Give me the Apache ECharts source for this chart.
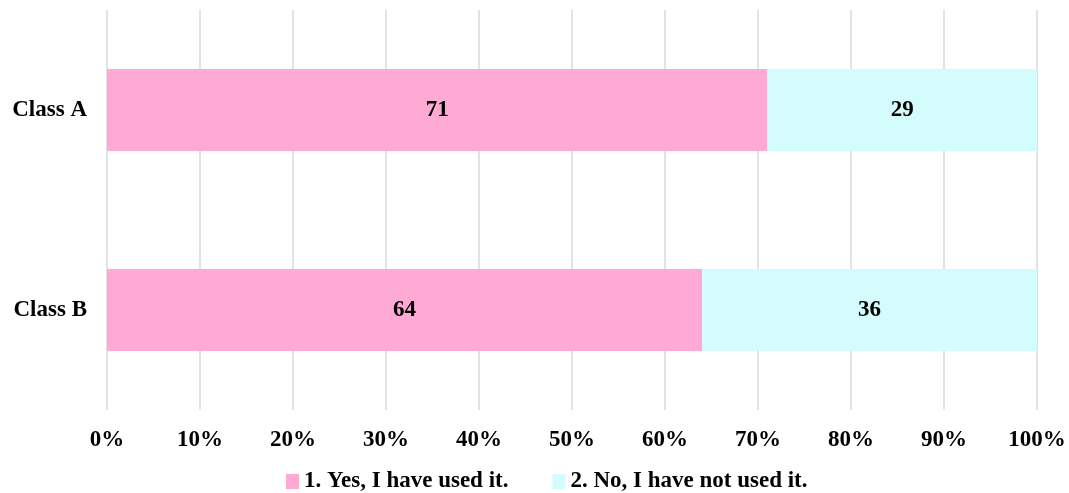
<!DOCTYPE html>
<html>
<head>
<meta charset="utf-8">
<script src="https://cdn.jsdelivr.net/npm/echarts@6/dist/echarts.min.js"></script>
<style>
html,body{margin:0;padding:0;background:#fff;}
#chart{width:1069px;height:493px;}
</style>
</head>
<body>
<div id="chart"></div>
<script>
// Survey answers per class (percent of students)
const categories = ['Class A', 'Class B'];
const usedIt = [71, 64];
const notUsed = [29, 36];
const seriesNames = ['1. Yes, I have used it.', '2. No, I have not used it.'];
const tickLabels = ['0%', '10%', '20%', '30%', '40%', '50%', '60%', '70%', '80%', '90%', '100%'];

const font = 'Liberation Serif';
const fontSize = 23;
const chart = echarts.init(document.getElementById('chart'));

const labelStyle = {
  show: true,
  position: 'inside',
  color: '#000',
  fontFamily: font,
  fontWeight: 'bold',
  fontSize: fontSize
};

chart.setOption({
  animation: false,
  textStyle: { fontFamily: font },
  grid: { left: 107, right: 32, top: 10, bottom: 83, containLabel: false },
  legend: {
    top: 465,
    left: 281,
    itemWidth: 13,
    itemHeight: 15,
    itemGap: 44,
    icon: 'rect',
    textStyle: { fontFamily: font, fontWeight: 'bold', fontSize: fontSize, color: '#000' },
    data: seriesNames
  },
  xAxis: {
    type: 'value',
    min: 0,
    max: 100,
    interval: 10,
    axisLine: { show: false },
    axisTick: { show: false },
    splitLine: { lineStyle: { color: '#d9d9d9', width: 1.5 } },
    axisLabel: {
      margin: 19,
      color: '#000',
      fontFamily: font,
      fontWeight: 'bold',
      fontSize: fontSize,
      formatter: v => tickLabels[Math.round(v / 10)]
    }
  },
  yAxis: {
    type: 'category',
    inverse: true,
    data: categories,
    axisLine: { show: false },
    axisTick: { show: false },
    axisLabel: {
      margin: 20,
      color: '#000',
      fontFamily: font,
      fontWeight: 'bold',
      fontSize: fontSize
    }
  },
  series: [
    {
      name: seriesNames[0],
      type: 'bar',
      stack: 'total',
      barWidth: 82,
      itemStyle: { color: '#FFAAD4' },
      label: labelStyle,
      data: usedIt
    },
    {
      name: seriesNames[1],
      type: 'bar',
      stack: 'total',
      barWidth: 82,
      itemStyle: { color: '#D4FCFC' },
      label: labelStyle,
      data: notUsed
    }
  ]
});
</script>
</body>
</html>
